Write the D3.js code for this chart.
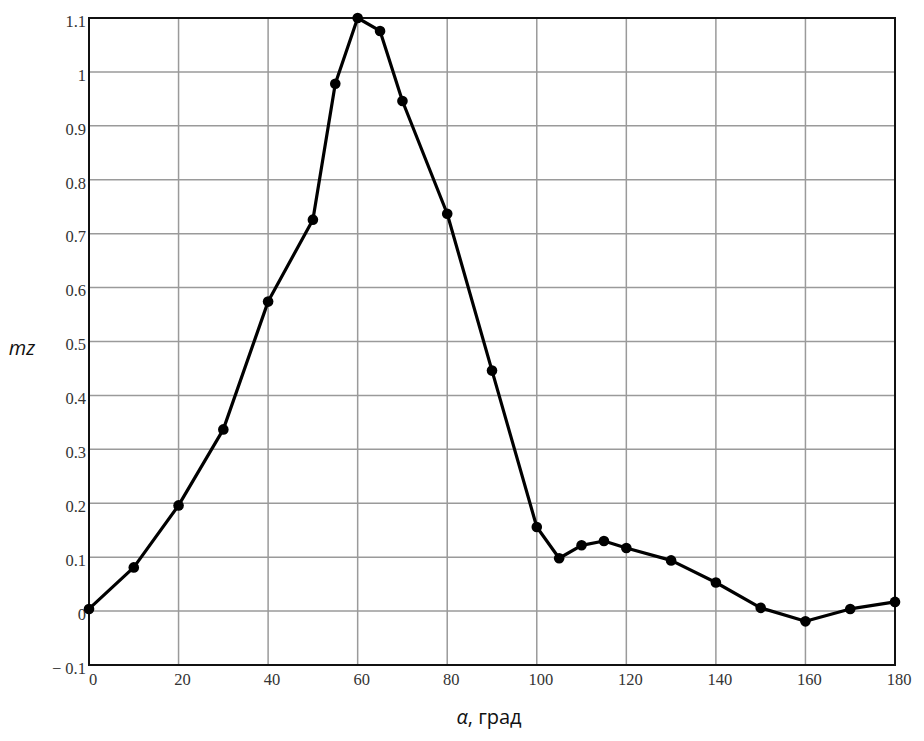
<!DOCTYPE html>
<html>
<head>
<meta charset="utf-8">
<script src="https://cdn.jsdelivr.net/npm/d3@7"></script>
<style>
  body { margin: 0; background: #fff; }
  svg { display: block; }
</style>
</head>
<body>
<div id="chart"></div>
<script>
const alphaDeg = [0, 10, 20, 30, 40, 50, 55, 60, 65, 70, 80, 90, 100, 105, 110, 115, 120, 130, 140, 150, 160, 170, 180];
const mzValues = [0.004, 0.081, 0.196, 0.337, 0.574, 0.726, 0.978, 1.1, 1.076, 0.946, 0.737, 0.446, 0.156, 0.098, 0.122, 0.13, 0.117, 0.094, 0.053, 0.006, -0.019, 0.004, 0.017];
const xTicks = [0, 20, 40, 60, 80, 100, 120, 140, 160, 180];
const yTicks = [-0.1, 0, 0.1, 0.2, 0.3, 0.4, 0.5, 0.6, 0.7, 0.8, 0.9, 1, 1.1];

const width = 924;
const height = 741;
const margin = {top: 18, right: 29, bottom: 76, left: 89};

const svg = d3.select("#chart").append("svg")
  .attr("width", width)
  .attr("height", height);

const x = d3.scaleLinear()
  .domain([0, 180])
  .range([margin.left, width - margin.right]);

const y = d3.scaleLinear()
  .domain([-0.1, 1.1])
  .range([height - margin.bottom, margin.top]);

// grid
svg.append("g")
  .selectAll("line")
  .data(xTicks)
  .join("line")
  .attr("x1", d => x(d)).attr("x2", d => x(d))
  .attr("y1", y(-0.1)).attr("y2", y(1.1))
  .attr("stroke", "#9a9a9a")
  .attr("stroke-width", 1.5);

svg.append("g")
  .selectAll("line")
  .data(yTicks)
  .join("line")
  .attr("x1", x(0)).attr("x2", x(180))
  .attr("y1", d => y(d)).attr("y2", d => y(d))
  .attr("stroke", "#9a9a9a")
  .attr("stroke-width", 1.5);

// frame
svg.append("rect")
  .attr("x", x(0))
  .attr("y", y(1.1))
  .attr("width", x(180) - x(0))
  .attr("height", y(-0.1) - y(1.1))
  .attr("fill", "none")
  .attr("stroke", "#111")
  .attr("stroke-width", 2);

// tick labels
const fmtY = d => d < 0 ? "\u2212 " + Math.abs(d) : String(d);

svg.append("g")
  .selectAll("text")
  .data(yTicks)
  .join("text")
  .attr("x", x(0) - 3)
  .attr("y", d => y(d) + 5)
  .attr("text-anchor", "end")
  .attr("dominant-baseline", "middle")
  .attr("font-family", "Liberation Serif, Times New Roman, serif")
  .attr("font-size", "16.5px")
  .attr("fill", "#333")
  .text(fmtY);

svg.append("g")
  .selectAll("text")
  .data(xTicks)
  .join("text")
  .attr("x", d => x(d) + 4)
  .attr("y", y(-0.1) + 16)
  .attr("text-anchor", "middle")
  .attr("dominant-baseline", "middle")
  .attr("font-family", "Liberation Serif, Times New Roman, serif")
  .attr("font-size", "16.5px")
  .attr("fill", "#333")
  .text(d => d);

// series
const pts = alphaDeg.map((a, i) => [a, mzValues[i]]);

svg.append("path")
  .datum(pts)
  .attr("fill", "none")
  .attr("stroke", "#000")
  .attr("stroke-width", 3.2)
  .attr("stroke-linejoin", "round")
  .attr("d", d3.line().x(d => x(d[0])).y(d => y(d[1])));

svg.append("g")
  .selectAll("circle")
  .data(pts)
  .join("circle")
  .attr("cx", d => x(d[0]))
  .attr("cy", d => y(d[1]))
  .attr("r", 5.3)
  .attr("fill", "#000");

// axis titles
svg.append("text")
  .attr("x", 22)
  .attr("y", 350)
  .attr("text-anchor", "middle")
  .attr("dominant-baseline", "middle")
  .attr("font-family", "Open Sans, sans-serif")
  .attr("font-style", "italic")
  .attr("font-size", "20px")
  .attr("fill", "#111")
  .text("mz");

const xt = svg.append("text")
  .attr("x", 489)
  .attr("y", 719)
  .attr("text-anchor", "middle")
  .attr("dominant-baseline", "middle")
  .attr("font-family", "Open Sans, sans-serif")
  .attr("font-size", "20px")
  .attr("fill", "#111");
xt.append("tspan").attr("font-style", "italic").text("\u03b1");
xt.append("tspan").text(", град");
</script>
</body>
</html>
